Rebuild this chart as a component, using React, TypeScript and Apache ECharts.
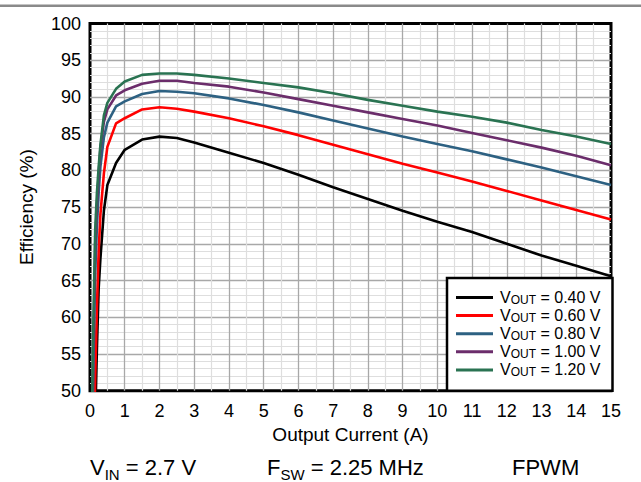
import React, { useEffect, useRef } from "react";
import * as echarts from "echarts";

const current = [0.05, 0.1, 0.15, 0.2, 0.25, 0.3, 0.4, 0.5, 0.75, 1, 1.5, 2, 2.5, 3, 4, 5, 6, 7, 8, 9, 10, 11, 12, 13, 14, 15];
const eff040 = [20, 30, 46, 56, 64, 68, 74.5, 78, 81, 82.8, 84.2, 84.6, 84.4, 83.8, 82.4, 81.0, 79.4, 77.7, 76.1, 74.5, 73.0, 71.6, 70.0, 68.4, 67.0, 65.6];
const eff060 = [30, 40, 52, 61.5, 69, 74, 79.6, 83.2, 86.4, 87.1, 88.3, 88.6, 88.4, 88.0, 87.1, 86.0, 84.8, 83.5, 82.2, 80.9, 79.7, 78.5, 77.2, 75.9, 74.6, 73.3];
const eff080 = [40, 54, 66, 72.5, 77, 80.5, 84.5, 86.5, 88.7, 89.4, 90.4, 90.8, 90.7, 90.5, 89.8, 88.9, 87.9, 86.8, 85.7, 84.6, 83.6, 82.6, 81.5, 80.4, 79.2, 78.0];
const eff100 = [42, 57, 70, 75.5, 79.5, 83, 86.6, 88.3, 90.2, 90.9, 91.8, 92.2, 92.2, 91.9, 91.4, 90.6, 89.7, 88.8, 87.9, 87.0, 86.1, 85.1, 84.1, 83.1, 82.0, 80.7];
const eff120 = [45, 60, 72, 77, 80.5, 83.5, 87.5, 89.2, 91.1, 92.1, 93.0, 93.2, 93.2, 93.0, 92.5, 91.9, 91.3, 90.5, 89.6, 88.8, 88.0, 87.3, 86.5, 85.5, 84.6, 83.6];

const voutLabels = ["0.40", "0.60", "0.80", "1.00", "1.20"];
const seriesValues = [eff040, eff060, eff080, eff100, eff120];
const seriesColors = ["#000000", "#ff0000", "#2d6182", "#6b2d6b", "#2a7352"];

const xAxisTitle = "Output Current (A)";
const yAxisTitle = "Efficiency (%)";

const FONT = "'Liberation Sans', Arial, sans-serif";
const MAIN = 22;
const SUB = 15;
const BASELINE = 475.3;
const SUB_DROP = 4.4;

// Arial / Liberation Sans advance widths (em)
const W: Record<string, number> = { V: 0.667, F: 0.611, I: 0.278, N: 0.722, S: 0.667, W: 0.944 };

function txt(x: number, baseline: number, t: string, fs: number) {
  return {
    type: "text",
    x,
    y: baseline - 0.3465 * fs,
    style: { text: t, fontSize: fs, fill: "#000", fontFamily: FONT, verticalAlign: "middle" },
  };
}

function conditionText(x: number, main: string, sub: string, rest: string) {
  const mainW = main.split("").reduce((a, c) => a + (W[c] || 0.6), 0) * MAIN;
  const subW = sub.split("").reduce((a, c) => a + (W[c] || 0.6), 0) * SUB;
  return [
    txt(x, BASELINE, main, MAIN),
    txt(x + mainW, BASELINE + SUB_DROP, sub, SUB),
    txt(x + mainW + subW, BASELINE, rest, MAIN),
  ];
}

export default function App() {
  const ref = useRef<HTMLDivElement>(null);
  useEffect(() => {
    if (!ref.current) return;
    const chart = echarts.init(ref.current, null, { renderer: "svg" });
    const series = voutLabels.map((v, i) => ({
      name: v,
      type: "line",
      data: current.map((c, j) => [c, seriesValues[i][j]]),
      showSymbol: false,
      symbol: "none",
      clip: true,
      lineStyle: { color: seriesColors[i], width: 2.6 },
      itemStyle: { color: seriesColors[i] },
    }));
    chart.setOption({
      animation: false,
      textStyle: { fontFamily: FONT },
      grid: {
        left: 90,
        right: 30,
        top: 23.5,
        bottom: 91.3,
        show: true,
        borderColor: "#000",
        borderWidth: 3,
        backgroundColor: "transparent",
      },
      xAxis: {
        type: "value",
        min: 0,
        max: 15,
        interval: 1,
        name: xAxisTitle,
        nameLocation: "middle",
        nameGap: 23,
        nameTextStyle: { fontSize: 19, color: "#000", fontFamily: FONT },
        axisLine: { show: false },
        axisTick: { show: false },
        axisLabel: { fontSize: 18, color: "#000", margin: 11, fontFamily: FONT },
        splitLine: { show: true, showMinLine: false, showMaxLine: false, lineStyle: { color: "#a8a8a8", width: 1.3 } },
        minorTick: { show: false, splitNumber: 2 },
        minorSplitLine: { show: true, lineStyle: { color: "#dedede", width: 1.2 } },
      },
      yAxis: {
        type: "value",
        min: 50,
        max: 100,
        interval: 5,
        name: yAxisTitle,
        nameLocation: "middle",
        nameGap: 54,
        nameRotate: 90,
        nameTextStyle: { fontSize: 19, color: "#000", fontFamily: FONT },
        axisLine: { show: false },
        axisTick: { show: false },
        axisLabel: { fontSize: 18, color: "#000", margin: 9, fontFamily: FONT },
        splitLine: { show: true, showMinLine: false, showMaxLine: false, lineStyle: { color: "#a8a8a8", width: 1.3 } },
        minorTick: { show: false, splitNumber: 5 },
        minorSplitLine: { show: true, lineStyle: { color: "#dedede", width: 1.2 } },
      },
      legend: {
        data: voutLabels,
        orient: "vertical",
        left: 447,
        top: 278,
        padding: [11.5, 12, 12.8, 9],
        itemGap: 2.1,
        itemWidth: 37,
        itemHeight: 3,
        icon: "rect",
        backgroundColor: "#fff",
        borderColor: "#000",
        borderWidth: 2.5,
        z: 10,
        formatter: (name: string) => `{v0|V}{s|OUT}{v| = ${name} V}`,
        textStyle: {
          color: "#000",
          fontFamily: FONT,
          fontSize: 16,
          rich: {
            v0: { fontSize: 16, lineHeight: 16, color: "#000", fontFamily: FONT, padding: [0, 0, 0, 2] },
            v: { fontSize: 16, lineHeight: 16, color: "#000", fontFamily: FONT },
            s: { fontSize: 12, lineHeight: 10, verticalAlign: "bottom", color: "#000", fontFamily: FONT },
          },
        },
      },
      graphic: [
        {
          type: "rect",
          left: 0,
          top: 4.5,
          shape: { width: 641, height: 2.5 },
          style: { fill: "#8a8a8a" },
        },
        ...conditionText(90, "V", "IN", " = 2.7 V"),
        ...conditionText(267, "F", "SW", " = 2.25 MHz"),
        txt(512, BASELINE, "FPWM", MAIN),
      ],
      series,
    });
    return () => chart.dispose();
  }, []);
  return (
    <div
      ref={ref}
      style={{ position: "fixed", left: 0, top: 0, width: 641, height: 482, background: "#fff" }}
    />
  );
}
